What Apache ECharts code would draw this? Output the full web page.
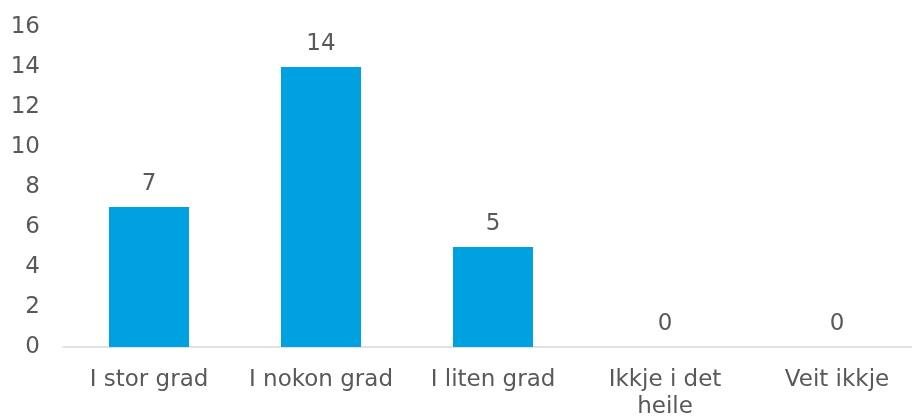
<!DOCTYPE html>
<html>
<head>
<meta charset="utf-8">
<script src="https://cdn.jsdelivr.net/npm/echarts@6/dist/echarts.min.js"></script>
<style>
  html, body { margin: 0; padding: 0; background: #fff; }
  #chart { width: 912px; height: 418px; }
</style>
</head>
<body>
<div id="chart"></div>
<script>
const categories = ['I stor grad', 'I nokon grad', 'I liten grad', 'Ikkje i det\nheile', 'Veit ikkje']
const values = [7, 14, 5, 0, 0]

const textColor = '#595959'
const font = '"DejaVu Sans", Verdana, sans-serif'

const myChart = echarts.init(document.getElementById('chart'))
myChart.setOption({
  animation: false,
  grid: { left: 63, top: 27, right: -11, bottom: 71, containLabel: false, outerBoundsMode: 'none' },
  xAxis: {
    type: 'category',
    data: categories,
    axisLine: { lineStyle: { color: '#d9d9d9', width: 1.5 } },
    axisTick: { show: false },
    axisLabel: {
      color: textColor,
      fontFamily: font,
      fontSize: 23,
      margin: 20,
      lineHeight: 27,
      interval: 0,
    },
  },
  yAxis: {
    type: 'value',
    min: 0,
    max: 16,
    interval: 2,
    splitLine: { show: false },
    axisLine: { show: false },
    axisTick: { show: false },
    axisLabel: {
      color: textColor,
      fontFamily: font,
      fontSize: 23,
      margin: 23,
    },
  },
  series: [
    {
      type: 'bar',
      data: values,
      barWidth: 80,
      itemStyle: { color: '#00A1E0' },
      label: {
        show: true,
        position: 'top',
        distance: 11,
        color: textColor,
        fontFamily: font,
        fontSize: 23,
      },
    },
  ],
})
</script>
</body>
</html>
